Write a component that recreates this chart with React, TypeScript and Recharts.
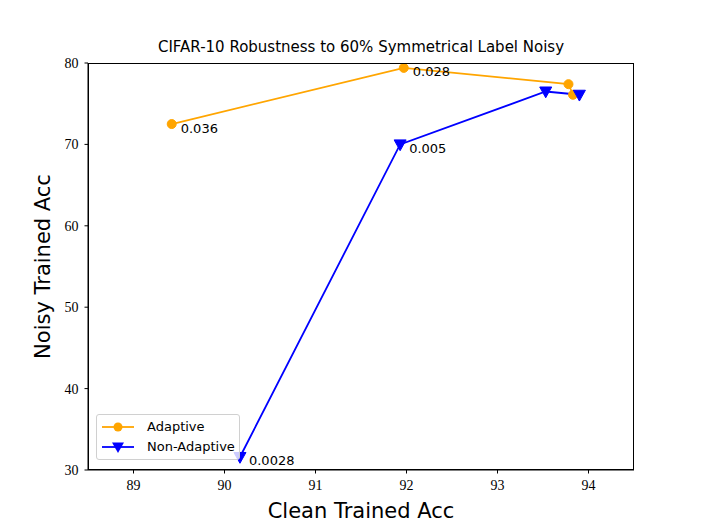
import React from 'react';
import { LineChart, Line, XAxis, YAxis, Label, LabelList } from 'recharts';

const adaptiveX = [89.42, 91.97, 93.78, 93.83];
const adaptiveY = [72.5, 79.4, 77.4, 76.1];
const adaptiveLabels = ['0.036', '0.028', '', ''];

const nonAdaptiveX = [90.17, 91.93, 93.53, 93.9];
const nonAdaptiveY = [31.6, 70.0, 76.5, 76.1];
const nonAdaptiveLabels = ['0.0028', '0.005', '', ''];

const xTicks = [89, 90, 91, 92, 93, 94];
const yTicks = [30, 40, 50, 60, 70, 80];

const adaptive = adaptiveX.map((x, i) => ({ x, y: adaptiveY[i], label: adaptiveLabels[i] }));
const nonAdaptive = nonAdaptiveX.map((x, i) => ({ x, y: nonAdaptiveY[i], label: nonAdaptiveLabels[i] }));

const ORANGE = '#ffa500';
const BLUE = '#0000ff';
const SERIF = '"Liberation Serif", "DejaVu Serif", serif';
const SANS = '"DejaVu Sans", "Noto Sans", sans-serif';

const CircleDot = (props: any) => {
  const { cx, cy } = props;
  if (cx == null || cy == null) return null;
  return <circle cx={cx} cy={cy} r={4.5} fill={ORANGE} stroke={ORANGE} />;
};

const TriDot = (props: any) => {
  const { cx, cy } = props;
  if (cx == null || cy == null) return null;
  const s = 6;
  return (
    <polygon
      points={`${cx - s},${cy - s * 0.75} ${cx + s},${cy - s * 0.75} ${cx},${cy + s * 1.05}`}
      fill={BLUE}
      stroke={BLUE}
    />
  );
};

const renderLabel = (props: any) => {
  const { x, y, value } = props;
  if (!value) return null;
  return (
    <text x={x + 9} y={y + 5} fontSize={13} fontFamily={SANS} fill="#000" dominantBaseline="middle">
      {value}
    </text>
  );
};

const LegendBox = () => (
  <div
    style={{
      position: 'absolute',
      left: 96,
      top: 414,
      border: '1px solid #d0d0d0',
      borderRadius: 3,
      background: 'rgba(255,255,255,0.8)',
      padding: '2px 4px 2px 4px',
      fontFamily: SANS,
      fontSize: 13,
      lineHeight: '20px',
      whiteSpace: 'nowrap',
    }}
  >
    <div style={{ display: 'flex', alignItems: 'center' }}>
      <svg width={34} height={14} style={{ marginRight: 12 }}>
        <line x1={1} y1={7} x2={33} y2={7} stroke={ORANGE} strokeWidth={1.8} />
        <circle cx={17} cy={7} r={4.5} fill={ORANGE} />
      </svg>
      <span>Adaptive</span>
    </div>
    <div style={{ display: 'flex', alignItems: 'center' }}>
      <svg width={34} height={14} style={{ marginRight: 12 }}>
        <line x1={1} y1={7} x2={33} y2={7} stroke={BLUE} strokeWidth={1.8} />
        <polygon points="11,2.5 23,2.5 17,13" fill={BLUE} />
      </svg>
      <span>Non-Adaptive</span>
    </div>
  </div>
);

export default function App() {
  return (
    <div style={{ position: 'absolute', left: 0, top: 0, width: 704, height: 528, background: '#fff' }}>
      <div
        style={{
          position: 'absolute',
          top: 38,
          left: 88,
          width: 546,
          textAlign: 'center',
          fontFamily: SANS,
          fontSize: 15,
        }}
      >
        CIFAR-10 Robustness to 60% Symmetrical Label Noisy
      </div>
      <LineChart width={704} height={528} margin={{ top: 63, right: 70, bottom: 0, left: 0 }}>
        <XAxis
          type="number"
          dataKey="x"
          domain={[88.5, 94.5]}
          ticks={xTicks}
          allowDataOverflow
          height={58}
          tickSize={3.5}
          tickMargin={7}
          axisLine={{ stroke: '#000', strokeWidth: 1 }}
          tickLine={{ stroke: '#000' }}
          tick={{ fill: '#000', fontSize: 14, fontFamily: SERIF }}
        >
          <Label value="Clean Trained Acc" position="insideBottom" offset={10} style={{ fontSize: 21, fontFamily: SANS, fill: '#000' }} />
        </XAxis>
        <YAxis
          type="number"
          domain={[30, 80]}
          ticks={yTicks}
          allowDataOverflow
          width={88}
          tickSize={3.5}
          tickMargin={6}
          axisLine={{ stroke: '#000', strokeWidth: 1 }}
          tickLine={{ stroke: '#000' }}
          tick={{ fill: '#000', fontSize: 14, fontFamily: SERIF }}
        >
          <Label
            value="Noisy Trained Acc"
            angle={-90}
            position="insideLeft"
            offset={43}
            style={{ fontSize: 21, fontFamily: SANS, fill: '#000', textAnchor: 'middle' }}
          />
        </YAxis>
        <Line
          data={adaptive}
          dataKey="y"
          name="Adaptive"
          stroke={ORANGE}
          strokeWidth={1.8}
          dot={<CircleDot />}
          activeDot={false}
          isAnimationActive={false}
        >
          <LabelList dataKey="label" content={renderLabel} />
        </Line>
        <Line
          data={nonAdaptive}
          dataKey="y"
          name="Non-Adaptive"
          stroke={BLUE}
          strokeWidth={1.8}
          dot={<TriDot />}
          activeDot={false}
          isAnimationActive={false}
        >
          <LabelList dataKey="label" content={renderLabel} />
        </Line>
      </LineChart>
      <div
        style={{
          position: 'absolute',
          left: 88,
          top: 63,
          width: 546,
          height: 407,
          boxSizing: 'border-box',
          border: '1px solid #000',
          pointerEvents: 'none',
        }}
      />
      <LegendBox />
    </div>
  );
}
